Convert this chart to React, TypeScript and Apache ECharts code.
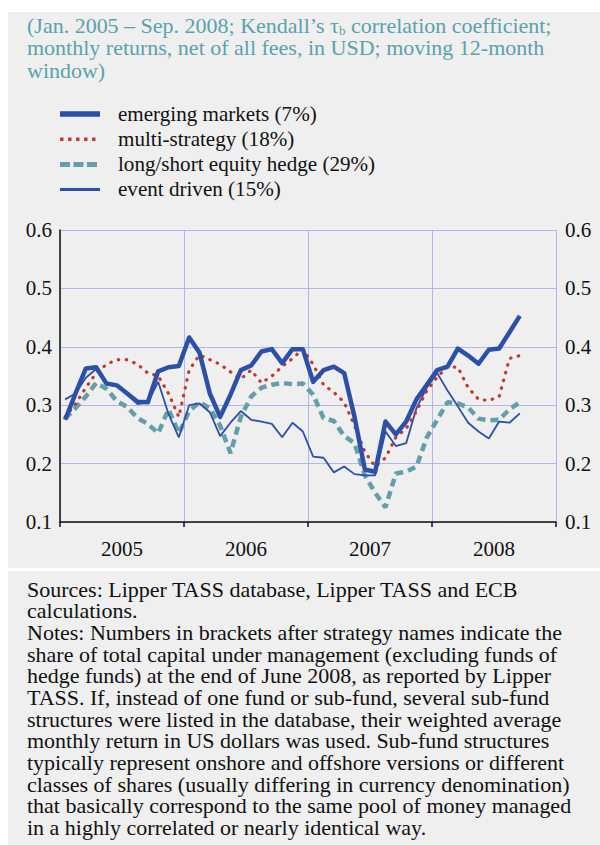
import React, { useEffect, useRef } from "react";
import * as echarts from "echarts";

const years = ["2005", "2006", "2007", "2008"];
const monthNames = ["Jan", "Feb", "Mar", "Apr", "May", "Jun", "Jul", "Aug", "Sep", "Oct", "Nov", "Dec"];
const yTicks = [0.1, 0.2, 0.3, 0.4, 0.5, 0.6];

const seriesNames = [
  "emerging markets (7%)",
  "multi-strategy (18%)",
  "long/short equity hedge (29%)",
  "event driven (15%)",
];

// Jan 2005 – Sep 2008, monthly
const emergingMarkets = [
  0.275, 0.32, 0.363, 0.365, 0.337, 0.334, 0.32, 0.306, 0.305, 0.358, 0.365, 0.367,
  0.416, 0.39, 0.32, 0.28, 0.318, 0.36, 0.368, 0.392, 0.396, 0.372, 0.396, 0.396,
  0.34, 0.36, 0.366, 0.355, 0.28, 0.19, 0.186, 0.272, 0.25, 0.272, 0.31, 0.335,
  0.36, 0.366, 0.397, 0.385, 0.371, 0.395, 0.397, 0.425, 0.453,
];
const multiStrategy = [
  0.28, 0.302, 0.33, 0.355, 0.37, 0.378, 0.378, 0.37, 0.355, 0.35, 0.32, 0.28,
  0.36, 0.386, 0.378, 0.37, 0.357, 0.345, 0.36, 0.338, 0.35, 0.366, 0.38, 0.396,
  0.37, 0.335, 0.322, 0.305, 0.265, 0.22, 0.195, 0.21, 0.245, 0.26, 0.29, 0.325,
  0.348, 0.366, 0.365, 0.33, 0.31, 0.308, 0.315, 0.38, 0.385,
];
const longShortEquity = [
  0.277, 0.295, 0.315, 0.338, 0.328, 0.307, 0.297, 0.278, 0.268, 0.252, 0.293, 0.252,
  0.29, 0.305, 0.295, 0.265, 0.218, 0.28, 0.315, 0.33, 0.335, 0.338, 0.336, 0.337,
  0.318, 0.278, 0.273, 0.247, 0.235, 0.18, 0.15, 0.125, 0.183, 0.186, 0.195, 0.245,
  0.275, 0.305, 0.303, 0.296, 0.277, 0.274, 0.275, 0.293, 0.305,
];
const eventDriven = [
  0.31, 0.32, 0.347, 0.362, 0.336, 0.333, 0.318, 0.302, 0.305, 0.34, 0.285, 0.245,
  0.3, 0.303, 0.288, 0.247, 0.27, 0.29, 0.275, 0.272, 0.268, 0.245, 0.27, 0.255,
  0.212, 0.21, 0.185, 0.195, 0.182, 0.18, 0.18, 0.255, 0.23, 0.235, 0.295, 0.33,
  0.355, 0.325, 0.298, 0.27, 0.255, 0.243, 0.272, 0.27, 0.286,
];

const noteLines = [
  "Sources: Lipper TASS database, Lipper TASS and ECB",
  "calculations.",
  "Notes: Numbers in brackets after strategy names indicate the",
  "share of total capital under management (excluding funds of",
  "hedge funds) at the end of June 2008, as reported by Lipper",
  "TASS. If, instead of one fund or sub-fund, several sub-fund",
  "structures were listed in the database, their weighted average",
  "monthly return in US dollars was used. Sub-fund structures",
  "typically represent onshore and offshore versions or different",
  "classes of shares (usually differing in currency denomination)",
  "that basically correspond to the same pool of money managed",
  "in a highly correlated or nearly identical way.",
];

const SERIF = "Liberation Serif";
const BLUE = "#2c4fa8";
const RED = "#c03a2e";
const TEAL = "#649fa8";
const TITLE_TEAL = "#5aa2ab";
const GRID = "#b3b6ea";
const PANEL = "#efefef";

// legend swatch styles (legend drawn with graphic elements)
const legendStyles = [
  { stroke: BLUE, lineWidth: 5.5, lineDash: null as number[] | null },
  { stroke: RED, lineWidth: 3.5, lineDash: [3.5, 4.5] },
  { stroke: TEAL, lineWidth: 5, lineDash: [10, 3.5] },
  { stroke: BLUE, lineWidth: 3, lineDash: null as number[] | null },
];

export default function App() {
  const ref = useRef<HTMLDivElement>(null);

  useEffect(() => {
    if (!ref.current) return;
    const chart = echarts.init(ref.current, undefined, { renderer: "svg" });
    const months: string[] = [];
    years.forEach((y) => monthNames.forEach((m) => months.push(`${m} ${y}`)));
    const yearStart = (i: number) => i % 12 === 0;

    const legendTop = 114;
    const legendStep = 25.2;
    const legendGraphics: any[] = [];
    seriesNames.forEach((name, k) => {
      const cy = legendTop + k * legendStep;
      const st = legendStyles[k];
      legendGraphics.push({
        type: "line",
        silent: true,
        shape: { x1: 60, y1: cy, x2: 100, y2: cy },
        style: { stroke: st.stroke, lineWidth: st.lineWidth, lineDash: st.lineDash || undefined },
      });
      legendGraphics.push({
        type: "text",
        silent: true,
        x: 118,
        y: cy,
        scaleX: 1.055,
        style: {
          text: name,
          fontFamily: SERIF,
          fontSize: 20,
          fill: "#111",
          verticalAlign: "middle",
          align: "left",
        },
      });
    });

    chart.setOption({
      animation: false,
      backgroundColor: "#ffffff",
      grid: { left: 60, right: 44, top: 230, bottom: 323, containLabel: false },
      graphic: [
        { type: "rect", z: -100, silent: true, shape: { x: 8, y: 12, width: 592, height: 556 }, style: { fill: PANEL } },
        { type: "rect", z: -100, silent: true, shape: { x: 8, y: 571, width: 592, height: 274 }, style: { fill: PANEL } },
        {
          type: "text",
          silent: true,
          x: 27,
          y: 15,
          scaleX: 1.1,
          style: {
            text:
              "{a|(Jan. 2005 – Sep. 2008; Kendall’s τ}{s|b}{a| correlation coefficient;}\n" +
              "{a|monthly returns, net of all fees, in USD; moving 12-month}\n{a|window)}",
            verticalAlign: "top",
            align: "left",
            rich: {
              a: { fontFamily: SERIF, fontSize: 20, lineHeight: 22.5, fill: TITLE_TEAL, color: TITLE_TEAL },
              s: { fontFamily: SERIF, fontSize: 12, lineHeight: 12, verticalAlign: "bottom", fill: TITLE_TEAL, color: TITLE_TEAL },
            },
          },
        },
        ...legendGraphics,
        {
          type: "text",
          silent: true,
          x: 27,
          y: 579,
          scaleX: 1.1,
          style: {
            text: noteLines.join("\n"),
            fontFamily: SERIF,
            fontSize: 20,
            lineHeight: 21.7,
            fill: "#111",
            verticalAlign: "top",
            align: "left",
          },
        },
      ],
      xAxis: [
        {
          type: "category",
          data: months,
          boundaryGap: true,
          axisLine: { onZero: false, lineStyle: { color: "#111", width: 1.5 } },
          axisTick: { show: true, interval: (i: number) => yearStart(i), length: 5, lineStyle: { color: "#111", width: 1.5 } },
          axisLabel: { show: false },
          splitLine: { show: true, interval: (i: number) => yearStart(i), lineStyle: { color: GRID, width: 1 } },
        },
        {
          type: "category",
          data: years,
          position: "bottom",
          boundaryGap: true,
          axisLine: { show: false, onZero: false },
          axisTick: { show: false },
          splitLine: { show: false },
          axisLabel: { margin: 16, fontFamily: SERIF, fontSize: 21, color: "#111" },
        },
      ],
      yAxis: [
        {
          type: "value",
          min: yTicks[0],
          max: yTicks[yTicks.length - 1],
          interval: 0.1,
          position: "left",
          axisLine: { show: true, lineStyle: { color: "#111", width: 1.5 } },
          axisTick: { show: false },
          axisLabel: { margin: 8, fontFamily: SERIF, fontSize: 21, color: "#111", formatter: (v: number) => v.toFixed(1) },
          splitLine: { show: true, lineStyle: { color: GRID, width: 1 } },
        },
        {
          type: "value",
          min: yTicks[0],
          max: yTicks[yTicks.length - 1],
          interval: 0.1,
          position: "right",
          axisLine: { show: false },
          axisTick: { show: false },
          axisLabel: { margin: 9, fontFamily: SERIF, fontSize: 21, color: "#111", formatter: (v: number) => v.toFixed(1) },
          splitLine: { show: false },
        },
      ],
      series: [
        {
          name: seriesNames[2],
          type: "line",
          data: longShortEquity,
          symbol: "none",
          lineStyle: { color: TEAL, width: 4.5, type: [8, 5] },
          itemStyle: { color: TEAL },
          z: 2,
        },
        {
          name: seriesNames[3],
          type: "line",
          data: eventDriven,
          symbol: "none",
          lineStyle: { color: BLUE, width: 1.8, type: "solid" },
          itemStyle: { color: BLUE },
          z: 3,
        },
        {
          name: seriesNames[1],
          type: "line",
          data: multiStrategy,
          symbol: "none",
          lineStyle: { color: RED, width: 3.2, type: [0.5, 7.5], cap: "round" },
          itemStyle: { color: RED },
          z: 4,
        },
        {
          name: seriesNames[0],
          type: "line",
          data: emergingMarkets,
          symbol: "none",
          lineStyle: { color: BLUE, width: 4.5, type: "solid", join: "round" },
          itemStyle: { color: BLUE },
          z: 5,
        },
      ],
    });
    return () => chart.dispose();
  }, []);

  return (
    <div style={{ position: "absolute", left: 0, top: 0, width: 600, height: 845 }}>
      <div ref={ref} style={{ width: 600, height: 845 }} />
    </div>
  );
}
